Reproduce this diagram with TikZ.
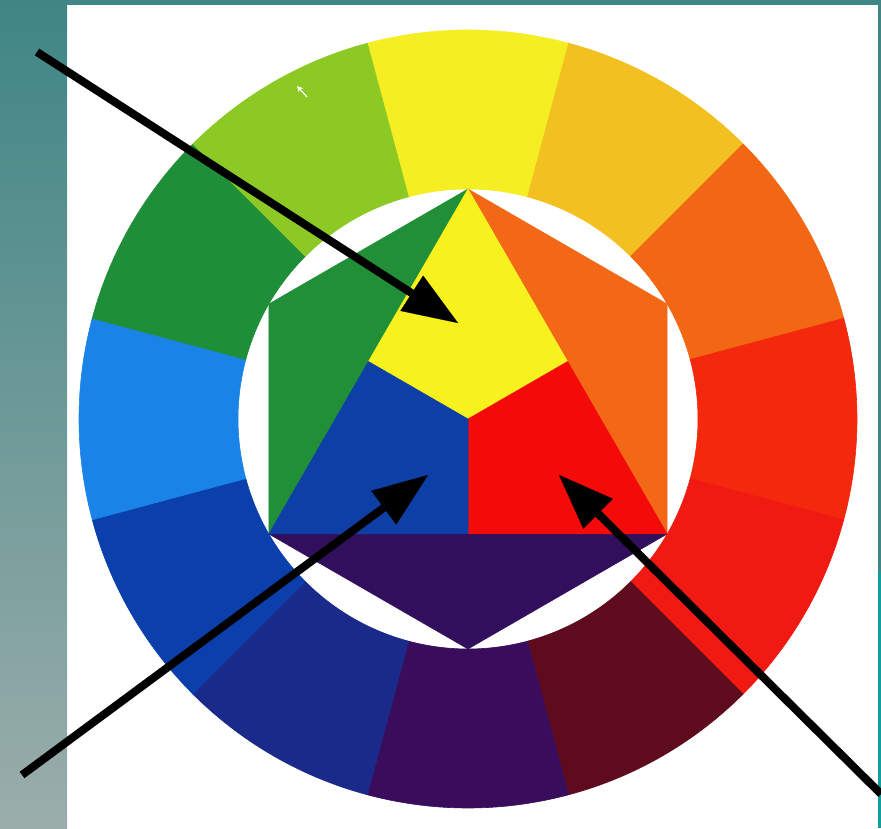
\documentclass[tikz,border=0pt]{standalone}
\usepackage{tikz}
\usetikzlibrary{arrows.meta,calc}

% ring colours
\definecolor{ringYellow}{HTML}{F5EE23}
\definecolor{ringGold}{HTML}{F2C020}
\definecolor{ringOrange}{HTML}{F26714}
\definecolor{ringRedOrange}{HTML}{F4280C}
\definecolor{ringRed}{HTML}{F01A12}
\definecolor{ringMaroon}{HTML}{5E0B1E}
\definecolor{ringPurple}{HTML}{3A0D5C}
\definecolor{ringNavy}{HTML}{1A2A8A}
\definecolor{ringBlue}{HTML}{0B3FAC}
\definecolor{ringSky}{HTML}{1A83E8}
\definecolor{ringGreen}{HTML}{1F8E38}
\definecolor{ringLime}{HTML}{8CC924}
% hexagon colours
\definecolor{hexYellow}{HTML}{F7F21E}
\definecolor{hexOrange}{HTML}{F26816}
\definecolor{hexRed}{HTML}{F40A08}
\definecolor{hexBlue}{HTML}{0E3FA6}
\definecolor{hexGreen}{HTML}{218F37}
\definecolor{hexPurple}{HTML}{320F5C}
% frame colours
\definecolor{frameTeal}{HTML}{3F8685}
\definecolor{frameGrey}{HTML}{9BADAB}
\definecolor{frameCyan}{HTML}{129C9C}

\begin{document}
\begin{tikzpicture}[x=1pt, y=1pt,
    pointer/.style={line width=8pt, -{Triangle[length=55pt, width=42pt, line width=0.1pt]}},
    sector/.style={fill=#1, draw=#1, line width=0.6pt, line join=round},
    facet/.style={fill=#1, draw=#1, line width=0.5pt, line join=round}
]

    \useasboundingbox (0,0) rectangle (881,828);

    % Frame
    \shade[top color=frameTeal, bottom color=frameGrey] (0,0) rectangle (67,828);
    \fill[frameTeal] (0,823) rectangle (881,828);
    \fill[frameTeal] (878,256) rectangle (881,828);
    \fill[frameCyan] (878,0) rectangle (881,256);

    % Centre of the wheel
    \coordinate (c) at (468,409);

    % Outer ring, twelve sectors
    \foreach \ang/\col in {90/ringYellow, 60/ringGold, 30/ringOrange, 0/ringRedOrange,
        -30/ringRed, -60/ringMaroon, -90/ringPurple, -120/ringNavy,
        -150/ringBlue, 180/ringSky, 150/ringGreen, 120/ringLime} {
        \draw[sector=\col] ([shift={(c)}]\ang-15:389)
            arc[start angle=\ang-15, end angle=\ang+15, radius=389]
            -- ([shift={(c)}]\ang+15:230)
            arc[start angle=\ang+15, end angle=\ang-15, radius=230] -- cycle;
    }

    % Hexagon corners
    \coordinate (hT)  at ([shift={(c)}]90:230);
    \coordinate (hUL) at ([shift={(c)}]150:230);
    \coordinate (hLL) at ([shift={(c)}]210:230);
    \coordinate (hB)  at ([shift={(c)}]270:230);
    \coordinate (hLR) at ([shift={(c)}]330:230);
    \coordinate (hUR) at ([shift={(c)}]30:230);
    \coordinate (mL) at ($(hT)!0.5!(hLL)$);
    \coordinate (mR) at ($(hT)!0.5!(hLR)$);
    \coordinate (mB) at ($(hLL)!0.5!(hLR)$);

    % Secondary triangles
    \draw[facet=hexGreen]  (hT) -- (hUL) -- (hLL) -- cycle;
    \draw[facet=hexOrange] (hT) -- (hUR) -- (hLR) -- cycle;
    \draw[facet=hexPurple] (hLL) -- (hB) -- (hLR) -- cycle;

    % Primary triangle
    \draw[facet=hexYellow] (hT) -- (mR) -- (c) -- (mL) -- cycle;
    \draw[facet=hexRed]    (c) -- (mR) -- (hLR) -- (mB) -- cycle;
    \draw[facet=hexBlue]   (c) -- (mL) -- (hLL) -- (mB) -- cycle;

    % Small cursor
    \coordinate (curA) at (307,731);
    \coordinate (curB) at (297,742);
    \draw[white, line width=1.2pt, -{Stealth[length=6pt, width=6pt]}] (curA) -- (curB);

    % Pointers
    \coordinate (tailY) at (37,776);
    \coordinate (tipY)  at (458,505);
    \coordinate (tailB) at (22,53);
    \coordinate (tipB)  at (428,353);
    \coordinate (tailR) at (881,34);
    \coordinate (tipR)  at (559,353);
    \draw[pointer] (tailY) -- (tipY);
    \draw[pointer] (tailB) -- (tipB);
    \draw[pointer] (tailR) -- (tipR);

\end{tikzpicture}
\end{document}
